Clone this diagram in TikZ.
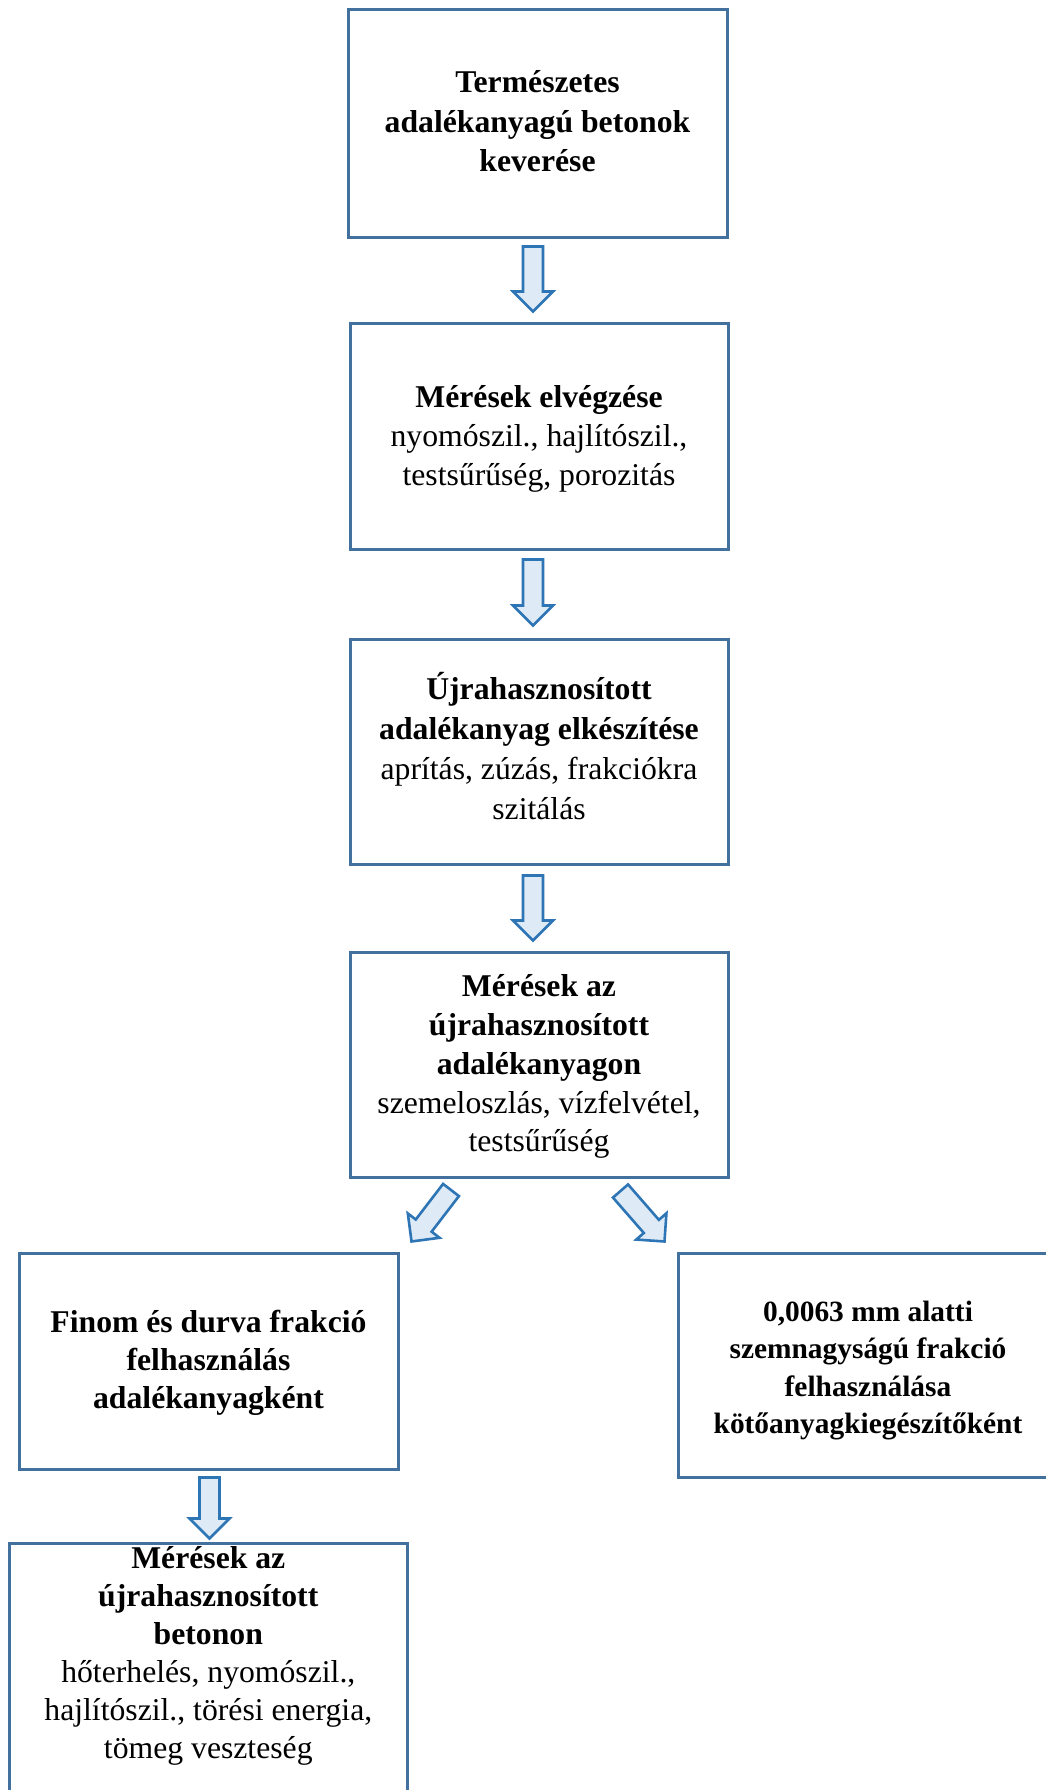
\documentclass[tikz,border=0pt]{standalone}
\usepackage{fontspec}
\setmainfont{Liberation Serif}
\usetikzlibrary{calc}
\definecolor{boxblue}{HTML}{41719C}
\definecolor{arrowblue}{HTML}{2E75B6}
\definecolor{arrowfill}{HTML}{DEEBF7}
\newcommand\blockarrow[2]{%
  \path let \p1=#1, \p2=#2 in
    \pgfextra{\pgfmathsetmacro\baAngT{atan2(\y2-\y1,\x2-\x1)}%
      \pgfmathsetmacro\baLenT{veclen(\x2-\x1,\y2-\y1)}%
      \xdef\baAng{\baAngT}\xdef\baLen{\baLenT}};
  \pgfmathsetmacro\baHead{\baLen-20}
  \begin{scope}[shift={#1}, rotate=\baAng]
    \draw[barrowstyle] (0pt,-10pt) -- (\baHead pt,-10pt) -- (\baHead pt,-20pt)
      -- (\baLen pt,0pt) -- (\baHead pt,20pt) -- (\baHead pt,10pt) -- (0pt,10pt) -- cycle;
  \end{scope}}
\tikzset{
  boxnode/.style={draw=boxblue, line width=3pt, inner sep=0pt, rectangle},
  txt/.style={align=flush center, inner sep=0pt, text width=420pt, anchor=base},
  barrowstyle/.style={draw=arrowblue, fill=arrowfill, line width=2.6pt, line join=miter},
}
\begin{document}
\begin{tikzpicture}[x=1pt,y=-1pt]
\useasboundingbox (0,0) rectangle (1046,1790);
\fill[white] (0,0) rectangle (1046,1790);
\clip (0,0) rectangle (1046,1790);

\node[boxnode, minimum width=379, minimum height=227] (b1) at (537.5,123.5) {};
\node[boxnode, minimum width=378, minimum height=226] (b2) at (539,436) {};
\node[boxnode, minimum width=378, minimum height=225] (b3) at (539,751.5) {};
\node[boxnode, minimum width=378, minimum height=225] (b4) at (539,1064.5) {};
\node[boxnode, minimum width=379, minimum height=216] (b5) at (208.5,1361) {};
\node[boxnode, minimum width=380, minimum height=224] (b6) at (868,1365) {};
\node[boxnode, minimum width=398, minimum height=300] (b7) at (208,1693) {};

\node[txt, font=\fontsize{31.7}{39.5}\selectfont\bfseries] (t1) at ($(b1.center)+(0,-30.8)$)
  {Természetes\\adalékanyagú betonok\\keverése};
\node[txt, font=\fontsize{31.7}{39.2}\selectfont] (t2) at ($(b2.center)+(0,-28.7)$)
  {\textbf{Mérések elvégzése}\\nyomószil., hajlítószil.,\\testsűrűség, porozitás};
\node[txt, font=\fontsize{31.7}{40}\selectfont] (t3) at ($(b3.center)+(0,-52.2)$)
  {\textbf{Újrahasznosított}\\\textbf{adalékanyag elkészítése}\\aprítás, zúzás, frakciókra\\szitálás};
\node[txt, font=\fontsize{31.7}{38.8}\selectfont] (t4) at ($(b4.center)+(0,-67.8)$)
  {\textbf{Mérések az}\\\textbf{újrahasznosított}\\\textbf{adalékanyagon}\\szemeloszlás, vízfelvétel,\\testsűrűség};
\node[txt, font=\fontsize{31.7}{37.8}\selectfont\bfseries] (t5) at ($(b5.center)+(0,-28.3)$)
  {Finom és durva frakció\\felhasználás\\adalékanyagként};
\node[txt, font=\fontsize{29.4}{37.2}\selectfont\bfseries] (t6) at ($(b6.center)+(0,-43.3)$)
  {0,0063 mm alatti\\szemnagyságú frakció\\felhasználása\\kötőanyagkiegészítőként};
\node[txt, font=\fontsize{31.7}{38}\selectfont] (t7) at ($(b7.center)+(0.3,-124.7)$)
  {\textbf{Mérések az}\\\textbf{újrahasznosított}\\\textbf{betonon}\\hőterhelés, nyomószil.,\\hajlítószil., törési energia,\\tömeg veszteség};

\blockarrow{($(b1.south)+(-4.5,8)$)}{($(b2.north)+(-6,-10)$)}
\blockarrow{($(b2.south)+(-6,9)$)}{($(b3.north)+(-6,-12)$)}
\blockarrow{($(b3.south)+(-6,10)$)}{($(b4.north)+(-6,-10)$)}
\blockarrow{($(b4.south)+(-88,11.5)$)}{($(b5.north east)+(12,-10)$)}
\blockarrow{($(b4.south)+(81.5,12.5)$)}{($(b6.north west)+(-12,-10)$)}
\blockarrow{($(b5.south)+(1,7)$)}{($(b7.north)+(1.5,-3)$)}
\end{tikzpicture}
\end{document}
